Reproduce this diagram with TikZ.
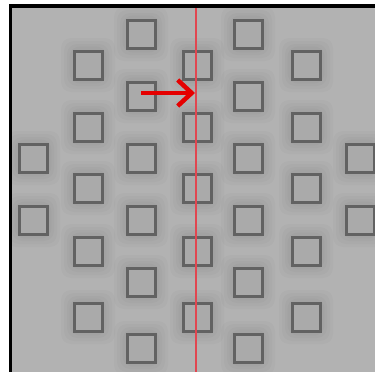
\documentclass[tikz,border=0pt]{standalone}
\usetikzlibrary{arrows.meta,calc}
\definecolor{platebg}{RGB}{178,178,178}
\definecolor{sqfill}{RGB}{170,170,170}
\definecolor{sqline}{RGB}{98,98,98}
\definecolor{cutred}{RGB}{225,70,80}
\tikzset{
  cell/.style={
    rectangle, draw=sqline, fill=sqfill, line width=3pt,
    minimum size=28pt, inner sep=0pt},
  halo/.style={
    rectangle, fill=black, fill opacity=0.018, draw=none,
    rounded corners=10pt, minimum size=#1, inner sep=0pt},
  cutline/.style={cutred, line width=2.5pt},
  push/.style={-{Straight Barb[length=14pt,width=26pt]}, line width=4.5pt, red!90!black},
}
\begin{document}
\begin{tikzpicture}[x=1pt,y=-1pt]
  \useasboundingbox (0,0) rectangle (375,372);
  % plate and frame
  \fill[white] (0,0) rectangle (375,372);
  \fill[platebg] (12,8) rectangle (375,372);
  \fill[black] (9,4) rectangle (12,372);
  \fill[black] (9,4) rectangle (375,8);
  % soft shadows round the cells
  \begin{scope}
    \clip (12,8) rectangle (375,372);
    \foreach \x/\rows in {33/{158,220}, 141/{34,96,158,220,282,348},
                          248/{34,96,158,220,282,348}, 360/{158,220},
                          88/{65,127,188,251,317}, 197/{65,127,188,251,317},
                          306/{65,127,188,251,317}}
      \foreach \y in \rows
        \foreach \s in {54,48,42,37}
          \node[halo=\s pt] at (\x,\y) {};
  \end{scope}
  % cells, columns a..g
  \foreach \c/\x in {a/33, g/360}
    \foreach \y [count=\r] in {158,220}
      \node[cell] (sq-\c\r) at (\x,\y) {};
  \foreach \c/\x in {c/141, e/248}
    \foreach \y [count=\r] in {34,96,158,220,282,348}
      \node[cell] (sq-\c\r) at (\x,\y) {};
  \foreach \c/\x in {b/88, d/197, f/306}
    \foreach \y [count=\r] in {65,127,188,251,317}
      \node[cell] (sq-\c\r) at (\x,\y) {};
  % cut line and push arrow
  \coordinate (cut-top) at (196,8);
  \coordinate (cut-bot) at (196,372);
  \draw[cutline] (cut-top) -- (cut-bot);
  \coordinate (hit) at (195,93);
  \draw[push] (sq-c2.center |- hit) -- (hit);
\end{tikzpicture}
\end{document}
